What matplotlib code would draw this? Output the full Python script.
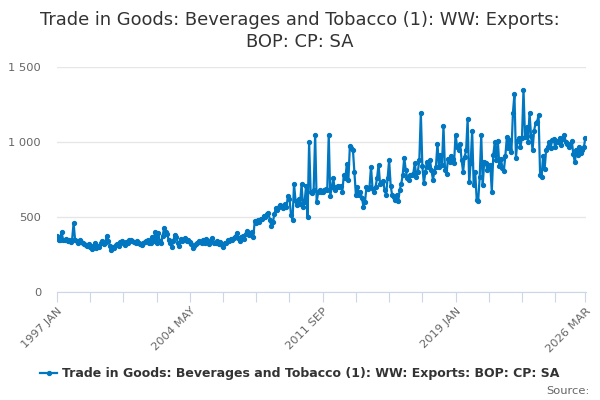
import matplotlib
matplotlib.use('Agg')
from matplotlib import pyplot as plt
from matplotlib.ticker import FuncFormatter

# Monthly export values (1997 JAN - 2026 MAR)
values_1997_2006 = [
    375, 345, 350, 400, 350, 345, 355, 340, 345, 335, 350, 460,  # 1997
    345, 340, 330, 345, 335, 330, 320, 315, 305, 320, 300, 285,  # 1998
    305, 325, 295, 310, 300, 330, 340, 320, 330, 375, 340, 310,  # 1999
    280, 300, 295, 315, 320, 310, 335, 340, 325, 315, 335, 330,  # 2000
    345, 350, 340, 335, 330, 340, 325, 320, 315, 325, 335, 340,  # 2001
    345, 330, 325, 370, 340, 400, 330, 395, 340, 325, 375, 430,  # 2002
    400, 385, 345, 330, 300, 340, 380, 365, 330, 310, 355, 340,  # 2003
    345, 360, 340, 350, 335, 320, 295, 305, 320, 330, 340, 335,  # 2004
    325, 345, 330, 355, 335, 320, 345, 360, 330, 325, 340, 320,  # 2005
    335, 315, 300, 330, 325, 345, 340, 355, 345, 360, 370, 395,  # 2006
]
values_2007_2016 = [
    360, 340, 370, 375, 355, 390, 405, 380, 395, 400, 365, 475,  # 2007
    460, 480, 470, 490, 485, 510, 500, 520, 530, 480, 440, 465,  # 2008
    520, 560, 545, 570, 580, 575, 560, 585, 570, 640, 620, 515,  # 2009
    480, 720, 610, 580, 620, 590, 720, 565, 600, 710, 500, 1000,  # 2010
    670, 660, 680, 1050, 600, 665, 680, 670, 665, 680, 690, 680,  # 2011
    1050, 640, 700, 760, 680, 700, 710, 700, 705, 670, 780, 760,  # 2012
    855, 745, 975, 960, 950, 800, 645, 700, 650, 670, 625, 570,  # 2013
    600, 700, 690, 700, 835, 690, 670, 700, 760, 850, 720, 725,  # 2014
    740, 680, 650, 760, 880, 710, 645, 635, 615, 645, 605, 680,  # 2015
    720, 780, 895, 815, 760, 750, 780, 780, 790, 860, 770, 800,  # 2016
]
values_2017_2026 = [
    880, 1195, 840, 725, 800, 870, 835, 880, 815, 750, 800, 835,  # 2017
    990, 835, 915, 850, 1105, 815, 790, 890, 870, 910, 890, 860,  # 2018
    1050, 970, 950, 990, 880, 800, 900, 945, 1155, 735, 860, 1075,  # 2019
    715, 800, 615, 610, 770, 1045, 715, 870, 860, 815, 840, 850,  # 2020
    670, 915, 1000, 880, 1010, 840, 890, 830, 810, 910, 1035, 960,  # 2021
    1015, 935, 1195, 1320, 895, 1010, 1025, 970, 1030, 1350, 1035, 1100,  # 2022
    1000, 1195, 1040, 945, 1075, 1125, 1135, 1180, 780, 770, 910, 820,  # 2023
    950, 970, 1000, 960, 1015, 1020, 965, 1010, 1000, 1030, 980, 1020,  # 2024
    1045, 1000, 990, 970, 985, 1005, 920, 865, 945, 915, 970, 925,  # 2025
    950, 965, 1030,  # 2026
]
exports = values_1997_2006 + values_2007_2016 + values_2017_2026

month_names = ['JAN', 'FEB', 'MAR', 'APR', 'MAY', 'JUN',
               'JUL', 'AUG', 'SEP', 'OCT', 'NOV', 'DEC']
start_year = 1997

series_name = 'Trade in Goods: Beverages and Tobacco (1): WW: Exports: BOP: CP: SA'
title = 'Trade in Goods: Beverages and Tobacco (1): WW: Exports:\nBOP: CP: SA'

# Month labels for every point
labels = []
for i in range(len(exports)):
    labels.append(str(start_year + i // 12) + ' ' + month_names[i % 12])

n = len(exports)
x = list(range(n))

# Tick every 22 months plus the last month, label every 4th tick
tick_pos = list(range(0, n, 22)) + [n - 1]
tick_lab = []
for k, p in enumerate(tick_pos):
    if k % 4 == 0 or p == n - 1:
        tick_lab.append(labels[p])
    else:
        tick_lab.append('')

line_col = '#0077c0'
grey = '#666666'

fig = plt.figure(figsize=(6, 4), dpi=100)
ax = fig.add_axes([57 / 600, 1 - 292 / 400, (586 - 57) / 600, (292 - 67) / 400])

ax.plot(x, exports, color=line_col, linewidth=1.6, marker='o',
        markersize=2.8, label=series_name)

ax.set_xlim(0, n - 0.6)
ax.set_ylim(0, 1500)
ax.set_yticks([0, 500, 1000, 1500])
ax.yaxis.set_major_formatter(FuncFormatter(lambda v, p: '{:,}'.format(int(v)).replace(',', ' ')))
ax.grid(axis='y', color='#e6e6e6', linewidth=1)
ax.set_axisbelow(True)

ax.set_xticks(tick_pos)
ax.set_xticklabels(tick_lab, rotation=45, ha='right', rotation_mode='anchor')

for s in ['top', 'right', 'left']:
    ax.spines[s].set_visible(False)
ax.spines['bottom'].set_color('#ccd6eb')

ax.tick_params(axis='x', length=7, color='#ccd6eb', labelsize=8.25,
               labelcolor=grey, pad=3)
ax.tick_params(axis='y', length=0, labelsize=8.25, labelcolor=grey, pad=11.5)

fig.text(0.5, 1 - 11 / 400, title, ha='center', va='top', fontsize=12.9,
         color='#333333', linespacing=1.3)

fig.legend(loc='center', bbox_to_anchor=(0.5, 1 - 374 / 400), frameon=False,
           prop={'weight': 'bold', 'size': 9}, labelcolor='#333333',
           handlelength=1.35, handletextpad=0.4)

fig.text(590 / 600, 1 - 391 / 400, 'Source:', ha='right', va='center',
         fontsize=8.25, color=grey)

plt.savefig('out.png', dpi=100)
